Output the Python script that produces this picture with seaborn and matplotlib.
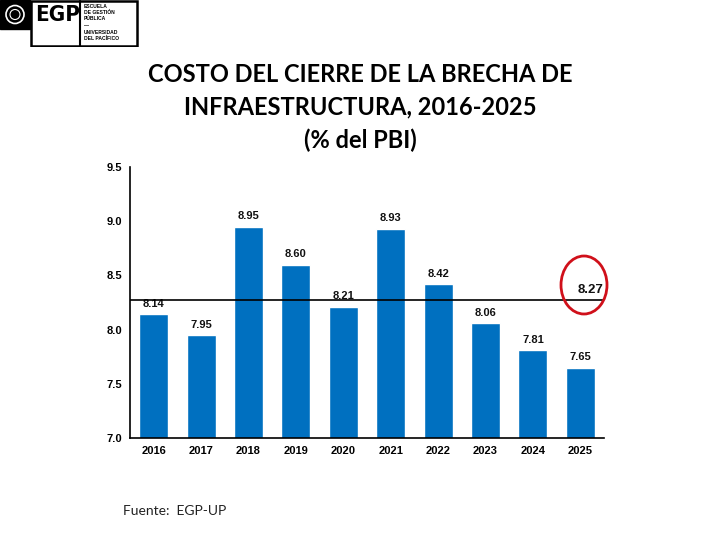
import matplotlib
matplotlib.use("Agg")
import matplotlib.pyplot as plt
import seaborn as sns
import pandas as pd
import numpy as np
from matplotlib.patches import Rectangle, Ellipse, Circle

years = ["2016", "2017", "2018", "2019", "2020", "2021", "2022", "2023", "2024", "2025"]
values = [8.14, 7.95, 8.95, 8.60, 8.21, 8.93, 8.42, 8.06, 7.81, 7.65]
avg_label = "8.27"
yticks = [7.0, 7.5, 8.0, 8.5, 9.0, 9.5]

sns.set_theme(style="white")
plt.rcParams['font.family'] = ['Liberation Sans', 'DejaVu Sans']
plt.rcParams['text.color'] = 'black'
plt.rcParams['xtick.color'] = 'black'
plt.rcParams['ytick.color'] = 'black'
plt.rcParams['axes.labelcolor'] = 'black'

df = pd.DataFrame({"year": years, "value": values})

fig = plt.figure(figsize=(7.2, 5.4), dpi=100)
fig.patch.set_facecolor("white")
ax = fig.add_axes([130/720, 1-438/540, (604-130)/720, (438-167)/540])

sns.barplot(data=df, x="year", y="value", color="#0070C0", saturation=1,
            width=0.61, ax=ax)
ax.set_ylim(7.0, 9.5)
ax.set_xlim(-0.5, len(years)-0.5)
ax.set_yticks(yticks)
ax.set_yticklabels([f"{v:.1f}" for v in yticks], fontsize=8, fontweight="bold")
ax.set_xticks(range(len(years)))
ax.set_xticklabels(years, fontsize=8, fontweight="bold")
ax.set_xlabel("")
ax.set_ylabel("")
ax.tick_params(axis="x", which="major", length=0, pad=6)
ax.set_xticks(np.arange(0.5, len(years)-0.5, 1.0), minor=True)
ax.tick_params(axis="x", which="minor", length=4, width=0.8, color="black", direction="out")
ax.tick_params(axis="y", length=3, width=0.8, color="black", direction="out", pad=14)
for lbl in ax.get_yticklabels():
    lbl.set_horizontalalignment("left")
for s in ["top", "right"]:
    ax.spines[s].set_visible(False)
for s in ["left", "bottom"]:
    ax.spines[s].set_color("black")
    ax.spines[s].set_linewidth(1.2)

for i, v in enumerate(values):
    ax.text(i, v + 0.05, f"{v:.2f}", ha="center", va="bottom", fontsize=8, fontweight="bold", color="#111111")

mean_val = float(np.mean(values))
ax.axhline(mean_val, color="black", lw=1.2, xmin=0, xmax=1, zorder=5)
ax.text(len(years)-0.5, mean_val + 0.04, avg_label, ha="right", va="bottom",
        fontsize=9.5, fontweight="bold", color="#111111")

# red circle highlight
fig.add_artist(Ellipse((584/720, 1-285/540), 46/720, 58/540, transform=fig.transFigure,
                       fill=False, edgecolor="#D0101A", lw=2.0))

# title
title_font = ['Lato', 'DejaVu Sans']
fig.text(0.5, 1-75/540, "COSTO DEL CIERRE DE LA BRECHA DE", ha="center", va="center",
         fontsize=17, fontweight="bold", family=title_font, color="black")
fig.text(0.5, 1-107/540, "INFRAESTRUCTURA, 2016-2025", ha="center", va="center",
         fontsize=17, fontweight="bold", family=title_font, color="black")
fig.text(0.5, 1-140/540, "(% del PBI)", ha="center", va="center",
         fontsize=17, fontweight="bold", family=title_font, color="black")

fig.text(123/720, 1-511/540, "Fuente:  EGP-UP", ha="left", va="center",
         fontsize=10, family=title_font, color="#222222")

# logo
lax = fig.add_axes([0, 1-47/540, 140/720, 47/540])
lax.set_xlim(0, 140)
lax.set_ylim(47, 0)
lax.axis("off")
lax.add_patch(Rectangle((0, 0), 30, 29, color="black"))
lax.add_patch(Circle((15, 14.5), 9, fill=False, edgecolor="white", lw=1.2))
lax.add_patch(Circle((15, 14.5), 5, fill=False, edgecolor="white", lw=0.8))
lax.add_patch(Rectangle((31, 0.8), 106, 45, fill=False, edgecolor="black", lw=1.8))
lax.text(35, 15, "EGP", fontsize=16, fontweight="bold", ha="left", va="center",
         family=['DejaVu Sans'], fontstretch="condensed", color="black")
lax.plot([80, 80], [1, 46], color="black", lw=1.5)
small = ["ESCUELA", "DE GESTIÓN", "PÚBLICA", "—", "UNIVERSIDAD", "DEL PACÍFICO"]
for k, t in enumerate(small):
    lax.text(84, 6 + k*6.5, t, fontsize=3.6, fontweight="bold", ha="left", va="center")

fig.savefig("out.png", dpi=100, facecolor="white")
